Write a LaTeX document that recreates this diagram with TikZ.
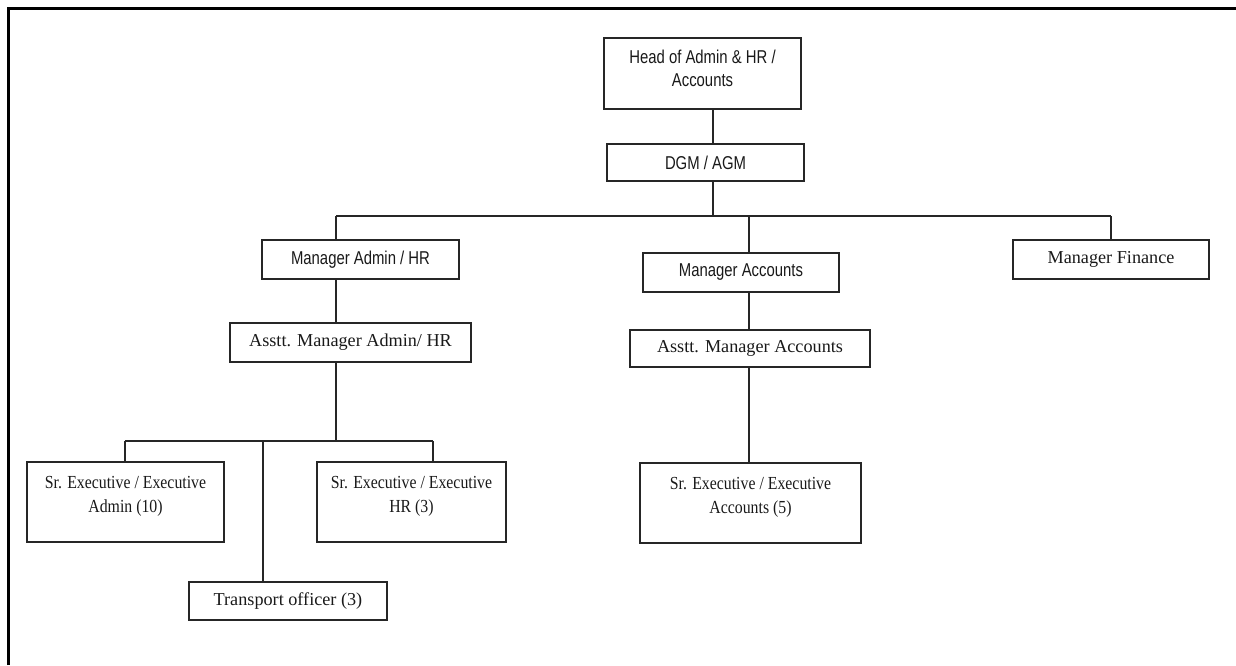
\documentclass[tikz,border=0pt]{standalone}
\usepackage{fontspec}
\setmainfont{Liberation Serif}
\newfontfamily\arialfont[FakeStretch=0.8]{Liberation Sans}
\newfontfamily\narrowserif[FakeStretch=0.86]{Liberation Serif}
\usetikzlibrary{calc}

\begin{document}
\begin{tikzpicture}[x=1pt, y=-1pt,
  box/.style={draw=black!85, line width=1.1pt, inner sep=0pt, align=center, text=black!90},
  sansbox/.style={box, font=\arialfont\fontsize{18.6}{23}\selectfont},
  serifbox/.style={box, font=\fontsize{18.2}{24}\selectfont},
  tallbox/.style={box, font=\narrowserif\fontsize{18.4}{24}\selectfont, minimum height=80pt, text depth=16pt},
  link/.style={line width=1.1pt, black!85}]
\useasboundingbox (0,0) rectangle (1236,665);
\draw[line width=3pt] (8,665) -- (8,8) -- (1236,8);

% top of the chart
\node[sansbox, minimum width=197pt, minimum height=71pt, text depth=11pt] (head) at (702.5,73.5) {Head of Admin \& HR /\\Accounts};
\node[sansbox, minimum width=197pt, minimum height=37pt] (dgm) at (705.5,162.5) {DGM / AGM};

% managers
\node[sansbox, minimum width=197pt, minimum height=39pt] (madmin) at (360.5,259.5) {Manager Admin / HR};
\node[sansbox, minimum width=196pt, minimum height=39pt] (macc) at (741,272.5) {Manager Accounts};
\node[serifbox, minimum width=196pt, minimum height=39pt] (mfin) at (1111,259.5) {Manager Finance};
\node[serifbox, minimum width=241pt, minimum height=39pt] (aadmin) at (350.5,342.5) {Asstt. Manager Admin/ HR};
\node[serifbox, minimum width=240pt, minimum height=37pt] (aacc) at (750,348.5) {Asstt. Manager Accounts};

% executives
\node[tallbox, minimum width=197pt] (exadmin) at (125.5,502) {Sr. Executive / Executive\\Admin (10)};
\node[tallbox, minimum width=189pt] (exhr) at (411.5,502) {Sr. Executive / Executive\\HR (3)};
\node[tallbox, minimum width=221pt] (exacc) at (750.5,503) {Sr. Executive / Executive\\Accounts (5)};
\node[serifbox, minimum width=198pt, minimum height=38pt] (transport) at (288,601) {Transport officer (3)};

% junctions
\coordinate (tA) at (713,216);
\coordinate (tL) at (336,216);
\coordinate (tM) at (749,216);
\coordinate (tR) at (1111,216);
\coordinate (sA) at (336,441);
\coordinate (sL) at (125,441);
\coordinate (sT) at (263,441);
\coordinate (sR) at (433,441);

\draw[link] (head.south -| tA) -- (dgm.north -| tA);
\draw[link] (dgm.south -| tA) -- (tA);
\draw[link] (tL) -- (tR);
\draw[link] (tL) -- (madmin.north -| tL);
\draw[link] (tM) -- (macc.north -| tM);
\draw[link] (tR) -- (mfin.north);
\draw[link] (madmin.south -| tL) -- (aadmin.north -| tL);
\draw[link] (macc.south -| tM) -- (aacc.north -| tM);
\draw[link] (aacc.south -| tM) -- (exacc.north -| tM);
\draw[link] (aadmin.south -| sA) -- (sA);
\draw[link] (sL) -- (sR);
\draw[link] (sL) -- (exadmin.north -| sL);
\draw[link] (sR) -- (exhr.north -| sR);
\draw[link] (sT) -- (transport.north -| sT);
\end{tikzpicture}
\end{document}
